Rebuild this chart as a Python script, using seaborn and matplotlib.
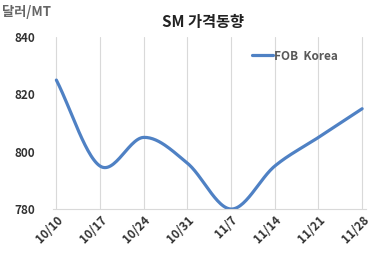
import numpy as np
import pandas as pd
import matplotlib
matplotlib.use("Agg")
import matplotlib.pyplot as plt
import seaborn as sns

dates = ["10/10", "10/17", "10/24", "10/31", "11/7", "11/14", "11/21", "11/28"]
fob_korea = [825, 795, 805, 796, 780, 795, 805, 815]
y_ticks = [780, 800, 820, 840]

sns.set_theme(style="white")
plt.rcParams['font.family'] = ['Noto Sans CJK KR', 'DejaVu Sans']

fig = plt.figure(figsize=(3.75, 2.61), dpi=100)
ax = fig.add_axes([0.141, 0.199, 0.834, 0.659])

# smooth rendering (Catmull-Rom) like Excel's smoothed line
x = np.arange(len(fob_korea), dtype=float)
y = np.array(fob_korea, dtype=float)
px = np.concatenate([[2 * x[0] - x[1]], x, [2 * x[-1] - x[-2]]])
py = np.concatenate([[2 * y[0] - y[1]], y, [2 * y[-1] - y[-2]]])
sx, sy = [], []
t = np.linspace(0, 1, 30)
for i in range(1, len(px) - 2):
    p0, p1, p2, p3 = py[i-1], py[i], py[i+1], py[i+2]
    q0, q1, q2, q3 = px[i-1], px[i], px[i+1], px[i+2]
    sy.extend(0.5 * (2*p1 + (-p0+p2)*t + (2*p0-5*p1+4*p2-p3)*t**2 + (-p0+3*p1-3*p2+p3)*t**3))
    sx.extend(0.5 * (2*q1 + (-q0+q2)*t + (2*q0-5*q1+4*q2-q3)*t**2 + (-q0+3*q1-3*q2+q3)*t**3))
df = pd.DataFrame({"x": sx, "y": sy})

for xi in x:
    ax.axvline(xi, color="#d9d9d9", lw=0.8, zorder=0)

sns.lineplot(data=df, x="x", y="y", ax=ax, color="#4f81c4", lw=2.3,
             label="FOB  Korea", sort=False, estimator=None)

ax.set_xlim(-0.08, 7.08)
ax.set_ylim(780, 840)
ax.set_yticks(y_ticks)
ax.set_xticks(x)
ax.set_xticklabels(dates, rotation=45, ha="right", rotation_mode="anchor")
ax.tick_params(axis="both", length=0, labelsize=8.5, colors="#333333", pad=3)
for lab in ax.get_xticklabels() + ax.get_yticklabels():
    lab.set_fontweight("bold")
ax.tick_params(axis="y", pad=13)
ax.set_xlabel("")
ax.set_ylabel("")
for s in ["top", "right", "left"]:
    ax.spines[s].set_visible(False)
ax.spines["bottom"].set_color("#d9d9d9")
ax.spines["bottom"].set_linewidth(0.8)

leg = ax.legend(loc="upper left", bbox_to_anchor=(0.672, 0.81),
                bbox_transform=fig.transFigure, frameon=False,
                fontsize=8.5, handlelength=1.8, handletextpad=0.1,
                borderpad=0, borderaxespad=0)
for txt in leg.get_texts():
    txt.set_color("#595959")
    txt.set_fontweight("bold")

fig.text(0.54, 0.915, "SM 가격동향", ha="center", va="center", fontsize=11,
         fontweight="bold", color="#222222")
fig.text(0.005, 0.955, "달러/MT", ha="left", va="center", fontsize=9.5,
         fontweight="bold", color="#666666")

fig.savefig("out.png", dpi=100, facecolor="white")
